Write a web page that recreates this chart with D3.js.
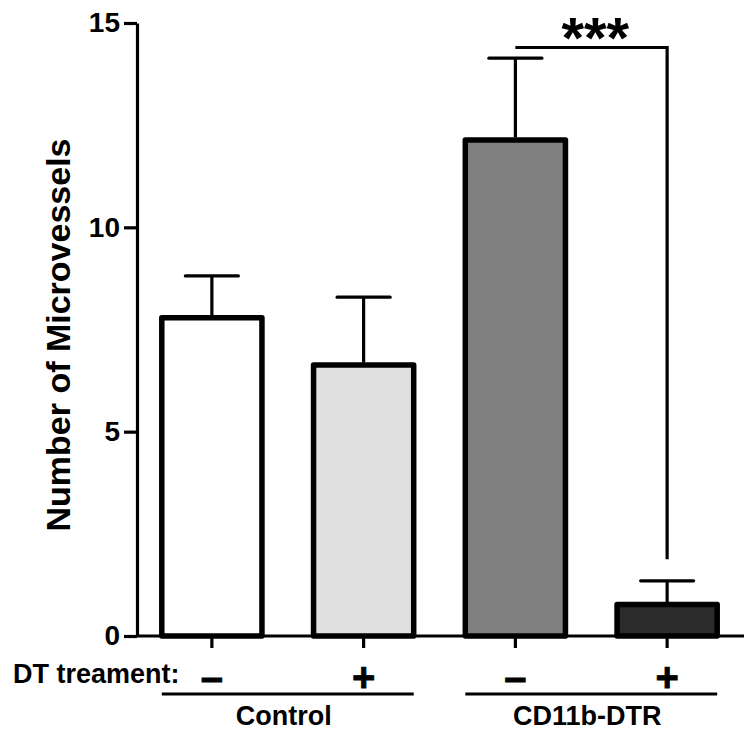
<!DOCTYPE html>
<html>
<head>
<meta charset="utf-8">
<script src="https://cdn.jsdelivr.net/npm/d3@7"></script>
<style>
  html, body { margin: 0; padding: 0; background: #fff; }
  svg { display: block; }
  text { font-family: "Liberation Sans", Arial, sans-serif; font-weight: bold; fill: #000; }
</style>
</head>
<body>
<svg id="chart" width="750" height="741"></svg>
<script>
// ---- data ----
const categories = ["Control-", "Control+", "CD11b-DTR-", "CD11b-DTR+"];
const groups = ["Control", "Control", "CD11b-DTR", "CD11b-DTR"];
const treatments = ["\u2013", "+", "\u2013", "+"];
const means = [7.79, 6.63, 12.14, 0.77];
const sems = [1.02, 1.66, 2.00, 0.58];
const barColors = ["#ffffff", "#e0e0e0", "#808080", "#2b2b2b"];
const yTicks = [0, 5, 10, 15];
const groupNames = ["Control", "CD11b-DTR"];
const sigFrom = 2, sigTo = 3, sigLevel = 14.4, sigEnd = 1.88, sigLabel = "***";
const yTitle = "Number of Microvessels";
const rowLabel = "DT treament:";

// ---- layout ----
const svg = d3.select("#chart");
const y = d3.scaleLinear().domain([0, 15]).range([636, 23]);
const x = d3.scaleBand().domain(categories).range([136, 743]).paddingInner(0.34).paddingOuter(0.17);
const cx = c => x(c) + x.bandwidth() / 2;

// bars
svg.append("g").selectAll("rect").data(categories).join("rect")
  .attr("x", d => x(d))
  .attr("y", (d, i) => y(means[i]))
  .attr("width", x.bandwidth())
  .attr("height", (d, i) => y(0) - y(means[i]))
  .attr("fill", (d, i) => barColors[i])
  .attr("stroke", "#000")
  .attr("stroke-width", 5.5)
  .attr("stroke-linejoin", "round");

// error bars (upper only)
const eb = svg.append("g").attr("stroke", "#000").attr("stroke-width", 3.2);
categories.forEach((c, i) => {
  eb.append("line").attr("x1", cx(c)).attr("x2", cx(c))
    .attr("y1", y(means[i]) - 2.5).attr("y2", y(means[i] + sems[i]));
  eb.append("line").attr("x1", cx(c) - 26.5).attr("x2", cx(c) + 26.5)
    .attr("y1", y(means[i] + sems[i])).attr("y2", y(means[i] + sems[i]))
    .attr("stroke-linecap", "round");
});

// y axis
const yAxis = svg.append("g").attr("transform", "translate(137,0)")
  .call(d3.axisLeft(y).tickValues(yTicks).tickSize(13).tickSizeOuter(0).tickPadding(4));
yAxis.select(".domain").attr("stroke-width", 3.2);
yAxis.selectAll(".tick line").attr("stroke-width", 3.2);
yAxis.selectAll(".tick text").attr("font-size", 28).attr("font-family", "Liberation Sans, Arial, sans-serif")
  .attr("font-weight", "bold").attr("fill", "#000");

// x axis
const xAxis = svg.append("g").attr("transform", `translate(0,${y(0)})`)
  .call(d3.axisBottom(x).tickSize(12).tickSizeOuter(0).tickFormat(""));
xAxis.select(".domain").attr("stroke-width", 3.2).attr("d", `M137,0H744`);
xAxis.selectAll(".tick line").attr("stroke-width", 3.2);

// treatment signs
svg.append("g").selectAll("text").data(categories).join("text")
  .attr("x", d => cx(d)).attr("y", 691)
  .attr("text-anchor", "middle").attr("font-size", 40)
  .attr("stroke", "#000").attr("stroke-width", 0.8)
  .text((d, i) => treatments[i]);

svg.append("text").attr("x", 13).attr("y", 683).attr("font-size", 27).text(rowLabel);

// group lines and labels
groupNames.forEach(g => {
  const cats = categories.filter((c, i) => groups[i] === g);
  const x0 = x(cats[0]), x1 = x(cats[cats.length - 1]) + x.bandwidth();
  svg.append("line").attr("x1", x0).attr("x2", x1).attr("y1", 694).attr("y2", 694)
    .attr("stroke", "#000").attr("stroke-width", 3);
  svg.append("text").attr("x", (x0 + x1) / 2 - 4).attr("y", 725)
    .attr("text-anchor", "middle").attr("font-size", 27).text(g);
});

// y title
svg.append("text").attr("transform", "translate(70,335) rotate(-90)")
  .attr("text-anchor", "middle").attr("font-size", 34).text(yTitle);

// significance bracket
const sx0 = cx(categories[sigFrom]), sx1 = cx(categories[sigTo]);
svg.append("path")
  .attr("d", `M${sx0},${y(sigLevel)}H${sx1}V${y(sigEnd)}`)
  .attr("fill", "none").attr("stroke", "#000").attr("stroke-width", 3.2);
svg.append("text").attr("x", (sx0 + sx1) / 2 + 4).attr("y", 58)
  .attr("text-anchor", "middle").attr("font-size", 58).text(sigLabel);
</script>
</body>
</html>
